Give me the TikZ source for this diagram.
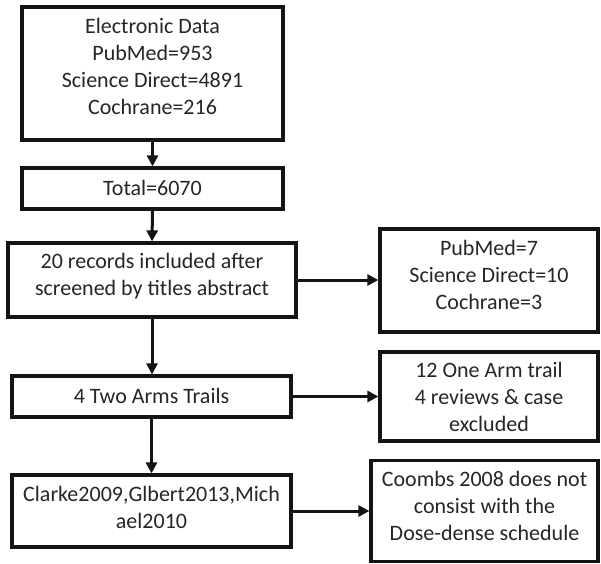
\documentclass[tikz,border=0pt]{standalone}
\usepackage{fontspec}
\setmainfont{Carlito}
\usetikzlibrary{arrows.meta}
\begin{document}
\begin{tikzpicture}[x=1pt,y=-1pt,
  box/.style={draw=black!92, line width=3.2pt, inner sep=0pt, fill=white},
  txt/.style={text=black!85, font=\fontsize{22}{27}\selectfont, align=center, inner sep=0pt},
  arr/.style={line width=3pt, draw=black!92, -{Triangle[length=11pt,width=11pt]}}]
\useasboundingbox[fill=white] (0,0) rectangle (601,563);
% left column
\node[box, minimum width=261pt, minimum height=133pt] (b1) at (152.5,73.5) {};
\node[txt] (t1) at (152.5,66) {Electronic Data\\PubMed=953\\Science Direct=4891\\Cochrane=216};
\node[box, minimum width=261pt, minimum height=41pt] (b2) at (152.5,188.5) {};
\node[txt] (t2) at (152.5,188) {Total=6070};
\node[box, minimum width=288pt, minimum height=74pt] (b3) at (152,280) {};
\node[txt] (t3) at (152,276.5) {20 records included after\\screened by titles abstract};
\node[box, minimum width=279pt, minimum height=41pt] (b4) at (151.5,396.5) {};
\node[txt] (t4) at (151.5,396) {4 Two Arms Trails};
\node[box, minimum width=279pt, minimum height=72pt] (b5) at (151.5,511) {};
\node[txt] (t5) at (151.5,507.5) {Clarke2009,Glbert2013,Mich\\ael2010};
% right column
\node[box, minimum width=218pt, minimum height=103pt] (r1) at (489,280.5) {};
\node[txt] (s1) at (489,275) {PubMed=7\\Science Direct=10\\Cochrane=3};
\node[box, minimum width=218pt, minimum height=89pt] (r2) at (489,396.5) {};
\node[txt] (s2) at (489,397) {12 One Arm trail\\4 reviews \& case\\excluded};
\node[box, minimum width=227pt, minimum height=101pt] (r3) at (484.5,511) {};
\node[txt] (s3) at (484.5,505.5) {Coombs 2008 does not\\consist with the\\Dose-dense schedule};
% connectors
\draw[arr] (b1.south) -- (b2.north);
\draw[arr] (b2.south) -- (b3.north);
\draw[arr] (b3.south) -- (b3.south |- b4.north);
\draw[arr] (b4.south) -- (b4.south |- b5.north);
\draw[arr] (b3.east) -- (b3.east -| r1.west);
\draw[arr] (b4.east) -- (b4.east -| r2.west);
\draw[arr] (b5.east) -- (b5.east -| r3.west);
\end{tikzpicture}
\end{document}
